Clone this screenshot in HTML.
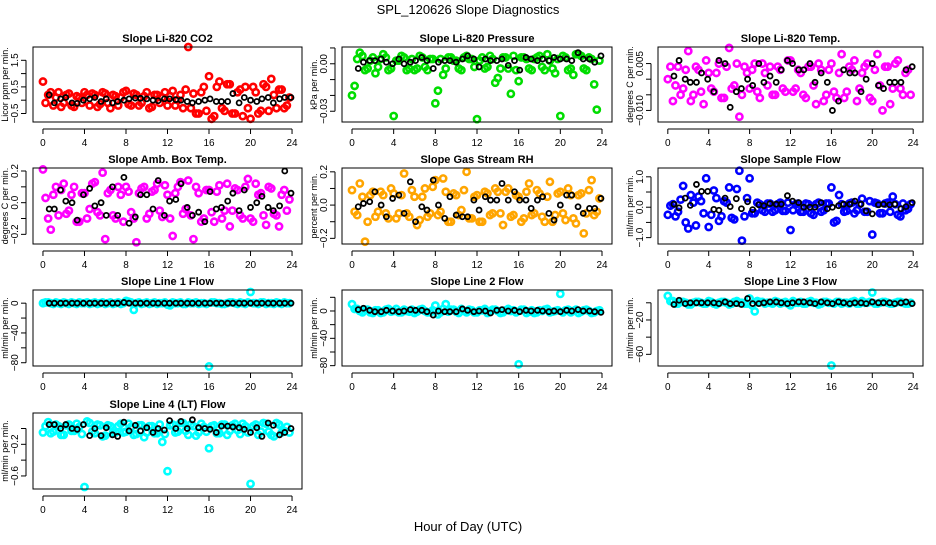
<!DOCTYPE html>
<html><head><meta charset="utf-8"><style>
body{margin:0;background:#fff;}
svg text{font-family:"Liberation Sans",sans-serif;fill:#000;}
</style></head><body>
<svg id="chart" width="936" height="540" viewBox="0 0 936 540">
<rect width="936" height="540" fill="#fff"/>
<text x="468" y="14" font-size="13" text-anchor="middle">SPL_120626  Slope Diagnostics</text>
<text x="468" y="531" font-size="13" text-anchor="middle">Hour of Day (UTC)</text>
</svg>
<script>
const xTicks=[0,4,8,12,16,20,24];
const blackHours=[0.6,1.1,1.7,2.2,2.8,3.3,3.9,4.5,5.0,5.6,6.1,6.7,7.2,7.8,8.3,8.9,9.4,10.0,10.6,11.1,11.7,12.2,12.8,13.3,13.9,14.4,15.0,15.6,16.1,16.7,17.2,17.8,18.3,18.9,19.4,20.0,20.6,21.1,21.7,22.2,22.8,23.3,23.9];
const co2A=[0.7,0.2,-0.2,0.3,-0.1,0.25,-0.25,0.1,0.3,-0.2,0.2,-0.15,0.25,-0.3,0.15,0.1,0.35,-0.2,0.2,-0.1,0.3,-0.25,0.2,0.1,-0.2,0.35,0.0,-0.3,2.0,0.25,-0.5,0.5,0.9,-0.6,0.7,-0.4,0.6,-0.5,0.4,0.5,-0.7,0.3,-0.4,0.5,0.8,-0.3,0.4,-0.2];
const co2B=[-0.1,0.3,0.1,-0.25,0.2,-0.2,0.15,-0.1,0.2,0.25,-0.25,0.3,-0.1,0.2,-0.2,0.3,-0.15,0.25,-0.2,0.15,-0.3,0.2,-0.1,0.3,0.15,-0.2,0.2,0.4,-0.3,-0.5,0.3,-0.4,-0.7,0.5,-0.3,0.6,-0.5,0.3,-0.6,-0.3,0.5,-0.5,0.6,-0.4,0.2,0.4,-0.3,0.1];
const co2K=[0.2,-0.1,0.05,0.1,-0.1,-0.12,0.0,0.05,0.1,-0.05,0.05,-0.1,-0.05,0.0,0.05,0.08,0.07,0.05,0.0,-0.02,0.05,0.05,0.02,0.0,-0.05,-0.1,-0.05,0.0,0.05,-0.05,-0.05,-0.05,0.25,-0.1,0.1,0.0,-0.05,0.05,0.1,-0.1,0.05,0.1,0.1];
const presA=[-0.02,0.003,0.005,-0.003,0.004,-0.002,0.006,-0.004,-0.033,0.002,0.004,-0.003,-0.004,0.005,-0.002,0.003,-0.025,0.003,-0.003,0.004,0.002,-0.004,0.005,0.003,-0.035,0.004,-0.002,0.003,-0.009,0.004,-0.003,0.005,-0.011,0.004,-0.003,0.003,0.005,-0.004,0.002,-0.006,-0.033,0.004,-0.003,0.006,0.005,-0.004,0.003,-0.029];
const presB=[-0.014,0.007,-0.004,0.002,-0.006,0.003,0.004,-0.003,0.002,0.005,-0.004,0.003,-0.003,0.004,-0.004,0.003,-0.017,-0.007,0.004,0.002,-0.003,0.004,0.003,-0.002,0.002,-0.003,0.005,-0.012,-0.003,0.004,-0.019,-0.004,0.004,0.003,-0.004,0.004,-0.002,0.006,-0.003,0.003,0.005,-0.004,-0.007,0.006,-0.003,0.004,-0.013,0.002];
const presK=[-0.003,0.001,0.002,0.002,0.003,0.001,0.0,0.003,0.0,0.001,0.002,0.004,0.002,-0.003,0.001,0.002,0.002,0.001,0.003,0.005,0.003,-0.002,0.003,0.002,0.002,0.003,-0.001,0.002,-0.004,0.004,0.003,0.002,0.003,0.002,0.004,0.003,0.003,0.002,0.007,0.003,0.003,0.001,0.005];
const tempA=[0.0,-0.007,0.004,-0.003,0.009,-0.005,0.003,-0.008,0.002,-0.004,0.005,-0.006,0.01,-0.002,-0.012,0.004,-0.003,0.005,-0.006,0.002,0.004,-0.005,0.003,-0.004,0.006,-0.003,0.002,-0.006,0.004,-0.008,0.003,-0.005,0.005,-0.006,0.008,-0.004,0.003,-0.007,0.002,0.005,-0.007,0.008,-0.01,0.004,-0.003,0.006,-0.005,0.003];
const tempB=[0.004,-0.002,-0.005,0.003,-0.007,0.004,-0.004,0.006,-0.003,0.002,-0.006,0.004,-0.003,0.005,-0.005,0.002,0.003,-0.004,0.005,-0.002,-0.005,0.004,-0.003,0.006,-0.004,0.003,-0.005,0.004,-0.002,0.005,-0.007,0.003,-0.004,0.002,-0.006,0.004,0.006,-0.003,0.004,-0.006,0.003,-0.002,0.004,-0.008,0.005,-0.003,0.002,-0.005];
const tempK=[0.001,0.006,0.0,-0.001,-0.001,0.002,0.0,-0.004,0.006,0.005,-0.009,-0.004,-0.003,0.0,-0.002,0.005,-0.001,0.001,-0.001,0.003,0.006,0.005,0.003,0.003,0.005,-0.001,0.002,-0.001,-0.01,-0.007,0.003,0.002,0.002,-0.004,0.0,0.005,-0.002,-0.003,-0.001,-0.001,-0.001,0.003,0.004];
const ambA=[0.21,-0.1,0.05,-0.08,0.12,-0.05,0.1,-0.12,0.06,-0.04,0.13,-0.08,-0.23,0.08,-0.1,0.05,0.1,-0.06,-0.25,0.09,-0.1,0.07,0.12,-0.09,0.05,-0.21,0.1,-0.07,0.14,-0.23,0.06,-0.1,0.08,-0.12,0.11,-0.05,-0.15,0.09,-0.08,0.1,-0.1,0.12,0.06,-0.14,0.09,-0.08,0.05,-0.05];
const ambB=[0.03,-0.17,0.1,0.08,-0.07,0.05,-0.12,0.06,-0.1,0.12,-0.06,0.19,0.06,-0.08,0.1,-0.12,0.07,-0.1,0.06,0.1,-0.07,0.08,-0.05,0.11,-0.1,0.06,0.13,-0.04,-0.08,0.1,-0.12,0.08,-0.06,0.07,-0.1,0.12,-0.05,0.08,-0.1,0.15,-0.12,0.05,-0.08,0.1,-0.07,-0.15,0.08,0.02];
const ambK=[-0.04,-0.04,0.08,0.01,0.0,-0.11,0.05,0.09,-0.02,0.0,-0.08,0.10,-0.08,0.16,-0.13,-0.09,0.05,0.05,-0.04,0.14,-0.08,0.01,0.02,0.12,-0.03,-0.08,-0.06,-0.12,0.07,-0.04,-0.03,0.01,0.06,-0.05,0.08,-0.03,0.0,0.04,-0.03,-0.05,-0.02,0.2,0.06];
const rhA=[0.09,-0.06,0.05,-0.1,0.08,-0.04,0.06,-0.08,0.07,-0.05,0.19,-0.07,0.05,-0.09,0.1,-0.05,0.15,-0.04,0.08,-0.1,0.06,-0.03,0.2,-0.08,0.06,-0.1,0.07,-0.05,0.08,-0.12,0.1,-0.06,0.05,-0.08,0.13,-0.05,0.07,-0.1,0.14,-0.06,0.08,-0.09,0.06,-0.11,0.07,-0.05,0.15,-0.04];
const rhB=[-0.04,0.13,-0.22,0.06,-0.07,0.08,-0.05,0.1,-0.08,0.06,-0.05,0.09,-0.12,0.05,-0.07,0.11,-0.06,0.16,-0.1,0.07,-0.06,0.09,-0.08,0.05,-0.1,0.08,-0.06,0.1,-0.05,0.08,-0.07,0.06,-0.1,0.08,-0.06,0.09,-0.07,0.05,-0.1,0.07,-0.05,0.1,-0.08,0.06,-0.17,0.09,-0.06,0.04];
const rhK=[-0.01,0.01,0.02,0.08,0.0,-0.07,0.04,0.06,-0.05,0.14,-0.1,-0.01,-0.03,0.15,0.0,-0.08,0.05,-0.06,-0.07,-0.07,0.03,-0.03,0.05,0.03,0.03,0.13,0.03,0.08,0.03,0.03,-0.02,0.03,0.05,-0.05,-0.09,0.0,0.06,0.06,-0.01,-0.05,-0.02,-0.02,0.04];
const sfA=[-0.25,0.1,-0.15,0.7,-0.7,0.15,0.35,-0.2,-0.65,0.55,-0.45,0.2,0.65,-0.4,1.2,-0.3,0.95,-0.2,0.1,-0.15,0.12,-0.1,0.15,-0.12,-0.75,0.1,-0.15,0.12,-0.2,0.1,-0.15,0.12,0.65,-0.45,0.1,-0.12,0.15,-0.1,0.28,-0.15,-0.9,0.12,-0.2,0.15,0.35,-0.25,0.12,-0.05];
const sfB=[0.05,-0.3,0.25,-0.5,0.4,-0.6,0.2,0.95,-0.25,0.3,-0.3,0.15,-0.35,0.6,-1.1,0.3,-0.2,0.15,-0.1,0.12,-0.15,0.1,-0.12,0.15,-0.1,0.12,-0.15,0.1,-0.25,0.15,-0.1,0.12,-0.5,0.4,-0.15,0.12,-0.2,0.1,-0.15,0.2,0.15,-0.2,0.12,-0.15,0.1,-0.3,-0.1,0.1];
const sfK=[0.1,-0.02,0.3,0.06,0.75,0.52,0.52,-0.07,-0.1,0.3,0.02,0.28,-0.05,0.18,-0.08,0.08,0.05,0.12,0.1,0.1,0.38,0.2,0.15,0.0,0.0,0.0,0.15,-0.05,0.0,0.05,0.1,0.1,0.2,0.1,-0.12,-0.22,0.08,0.1,0.08,0.1,-0.05,0.02,0.15];
const l1A=[0,1,-1,0,1,-1,0,1,0,-1,1,0,-1,1,0,-1,3,1,0,-1,1,0,-1,0,-2,1,0,-1,1,0,-1,0,-85,1,0,-1,1,0,1,-1,15,0,1,-1,0,1,-1,0];
const l1B=[1,0,1,-1,0,1,-1,0,1,0,-1,1,0,-1,1,0,2,-9,1,0,-1,1,0,1,-3,0,1,-1,0,1,0,-1,1,0,-1,0,1,-1,0,1,0,-1,1,0,-1,0,1,0];
const l1K=[0,0,0,0,0,0,0,0,0,0,0,0,0,1,0,0,0,0,0,0,0,0,0,0,0,0,0,0,0,0,0,0,0,0,0,0,0,0,0,0,0,0,0];
const l2A=[10,3,-2,2,-3,1,-2,3,0,-2,2,-1,-3,2,0,-2,8,-2,10,2,-1,3,-2,1,-2,1,-3,2,0,-2,3,1,-78,2,-1,-3,1,2,-2,0,25,1,-2,2,-1,2,-3,0];
const l2B=[3,0,2,-2,1,-3,2,-1,3,-2,0,2,-1,3,-2,1,-5,3,-1,2,-3,0,2,-2,1,3,-1,2,-3,1,0,-2,2,-3,1,-2,0,3,-1,1,-2,2,0,-3,1,0,-2,1];
const l2K=[2,4,1,-1,-1,1,0,-1,0,2,1,1,-1,-6,0,-1,-1,-1,3,1,-1,0,0,-3,1,2,0,1,-1,1,0,1,0,-1,0,-1,1,0,2,0,0,-1,-2];
const l3A=[8,2,-1,1,-2,0,1,-1,2,-1,0,1,-2,1,0,-1,5,-10,1,-1,0,2,-1,1,-3,0,1,-1,2,0,-1,1,-73,1,-1,0,1,-1,2,0,12,-1,1,0,-1,1,0,-1];
const l3B=[2,-1,1,0,-2,1,0,-1,1,-2,1,0,-1,2,0,-1,-3,2,1,0,-1,1,0,-1,2,0,-1,1,0,-2,1,0,-1,1,0,-1,2,-1,0,1,-1,0,1,-1,0,1,-1,0];
const l3K=[-2,3,-1,0,0,0,0,0,-1,1,-1,-1,-2,5,-1,-1,0,1,1,0,-1,0,1,1,0,-1,1,0,-1,1,0,-1,0,0,-1,1,0,0,0,-1,0,1,-1];
const l4A=[-0.05,0.08,-0.04,0.03,-0.08,0.05,-0.03,0.02,-0.74,0.07,-0.06,0.04,-0.09,0.03,-0.05,0.06,-0.04,0.02,-0.07,0.04,-0.05,0.03,-0.06,-0.17,-0.54,0.05,-0.04,0.07,-0.08,0.03,-0.05,0.02,-0.25,0.04,-0.06,0.05,-0.03,0.06,-0.07,0.03,-0.7,0.05,-0.04,0.06,-0.08,0.07,-0.05,0.02];
const l4B=[0.03,-0.06,0.05,-0.08,0.04,-0.03,0.06,-0.07,0.09,-0.04,0.05,-0.1,0.04,-0.06,0.03,-0.05,0.06,-0.08,0.04,-0.11,0.03,-0.06,0.05,-0.07,0.04,-0.05,0.07,-0.03,0.05,-0.09,0.06,-0.04,0.03,-0.06,0.05,-0.08,0.04,-0.02,0.06,-0.05,0.03,-0.08,0.07,-0.04,-0.1,0.05,-0.03,-0.05];
const l4K=[0.05,0.05,0.0,0.05,0.0,-0.01,0.05,-0.09,0.0,-0.09,0.01,-0.08,-0.1,0.08,-0.03,0.04,-0.03,0.01,-0.05,0.0,-0.02,0.1,0.0,0.09,0.0,0.11,0.01,0.0,-0.01,-0.05,0.03,0.03,0.02,0.01,-0.01,-0.05,0.01,-0.1,0.07,0.04,-0.08,-0.05,0.0];

const colBox=[[33,302],[342,612],[658,923]];
const rowBox=[[47,122],[168,244],[290,366],[413,489]];
const panels=[
 {id:'co2',title:'Slope Li-820 CO2',ylab:'Licor ppm per min.',c:0,r:0,ymin:-0.82,ymax:2.0,ticks:[-0.5,0,0.5,1,1.5],labels:['-0.5','','0.5','','1.5'],color:'#ff0000',a:co2A,b:co2B,k:co2K},
 {id:'pressure',title:'Slope Li-820 Pressure',ylab:'kPa per min.',c:1,r:0,ymin:-0.0368,ymax:0.0106,ticks:[-0.03,-0.02,-0.01,0,0.01],labels:['-0.03','','','0.00',''],color:'#00dd00',a:presA,b:presB,k:presK},
 {id:'li820-temp',title:'Slope Li-820 Temp.',ylab:'degrees C per min.',c:2,r:0,ymin:-0.0137,ymax:0.0103,ticks:[-0.01,-0.005,0,0.005],labels:['-0.010','','','0.005'],color:'#ff00ff',a:tempA,b:tempB,k:tempK},
 {id:'amb-box-temp',title:'Slope Amb. Box Temp.',ylab:'degrees C per min.',c:0,r:1,ymin:-0.261,ymax:0.219,ticks:[-0.2,-0.1,0,0.1,0.2],labels:['-0.2','','0.0','','0.2'],color:'#ff00ff',a:ambA,b:ambB,k:ambK},
 {id:'gas-stream-rh',title:'Slope Gas Stream RH',ylab:'percent per min.',c:1,r:1,ymin:-0.234,ymax:0.223,ticks:[-0.2,-0.1,0,0.1,0.2],labels:['-0.2','','0.0','','0.2'],color:'#ffa500',a:rhA,b:rhB,k:rhK},
 {id:'sample-flow',title:'Slope Sample Flow',ylab:'ml/min per min.',c:2,r:1,ymin:-1.21,ymax:1.29,ticks:[-1,-0.5,0,0.5,1],labels:['-1.0','','0.0','','1.0'],color:'#0000ff',a:sfA,b:sfB,k:sfK},
 {id:'line1-flow',title:'Slope Line 1 Flow',ylab:'ml/min per min.',c:0,r:2,ymin:-84.4,ymax:17.7,ticks:[-80,-60,-40,-20,0],labels:['-80','','-40','','0'],color:'#00ffff',a:l1A,b:l1B,k:l1K},
 {id:'line2-flow',title:'Slope Line 2 Flow',ylab:'ml/min per min.',c:1,r:2,ymin:-80.5,ymax:30.7,ticks:[-80,-60,-40,-20,0,20],labels:['-80','','-40','','0',''],color:'#00ffff',a:l2A,b:l2B,k:l2K},
 {id:'line3-flow',title:'Slope Line 3 Flow',ylab:'ml/min per min.',c:2,r:2,ymin:-73.6,ymax:14.9,ticks:[-60,-40,-20,0],labels:['-60','','-20',''],color:'#00ffff',a:l3A,b:l3B,k:l3K},
 {id:'line4-flow',title:'Slope Line 4 (LT) Flow',ylab:'ml/min per min.',c:0,r:3,ymin:-0.765,ymax:0.196,ticks:[-0.6,-0.4,-0.2,0],labels:['-0.6','','-0.2',''],color:'#00ffff',a:l4A,b:l4B,k:l4K}
];
const NS='http://www.w3.org/2000/svg';
const svg=document.getElementById('chart');
function mk(tag,attrs,parent){const e=document.createElementNS(NS,tag);for(const k in attrs)e.setAttribute(k,attrs[k]);parent.appendChild(e);return e;}
panels.forEach(p=>{
 const [L,R]=colBox[p.c],[T,B]=rowBox[p.r];
 const xs=h=>L+(h+0.96)/25.92*(R-L);
 const ys=v=>B-(v-p.ymin)/(p.ymax-p.ymin)*(B-T);
 const g=mk('g',{},svg);
 
 
 const t=mk('text',{x:(L+R)/2,y:T-5,'font-size':11,'font-weight':'bold','text-anchor':'middle'},g);t.textContent=p.title;
 
 
 const pts=mk('g',{fill:'none'},g);
 
 
 p.a.forEach((v,i)=>{const c=mk('circle',{cx:xs(i*0.5),cy:ys(v),r:3.1,stroke:p.color,'stroke-width':2.6},pts);
  
  });
 p.b.forEach((v,i)=>{const c=mk('circle',{cx:xs(i*0.5+0.25),cy:ys(v),r:3.1,stroke:p.color,'stroke-width':2.6},pts);
  
  });
 p.k.forEach((v,i)=>{const c=mk('circle',{cx:xs(blackHours[i]),cy:ys(v),r:2.5,stroke:'#000','stroke-width':1.8},pts);
  
  });
 const box=mk('rect',{x:L,y:T,width:R-L,height:B-T,fill:'none',stroke:'#000','stroke-width':1},g);
 
 
 const xa=mk('g',{stroke:'#000'},g);
 
 
 mk('line',{x1:xs(0),x2:xs(24),y1:B+7,y2:B+7},xa);
 xTicks.forEach(h=>{mk('line',{x1:xs(h),x2:xs(h),y1:B+7,y2:B+12},xa);
  const tl=mk('text',{x:xs(h),y:B+24,'font-size':10,'text-anchor':'middle',stroke:'none'},xa);tl.textContent=h;});
 const ya=mk('g',{stroke:'#000'},g);
 
 
 const t0=p.ticks[0],t1=p.ticks[p.ticks.length-1];
 mk('line',{x1:L-7,x2:L-7,y1:ys(t0),y2:ys(t1)},ya);
 p.ticks.forEach((v,i)=>{mk('line',{x1:L-12,x2:L-7,y1:ys(v),y2:ys(v)},ya);
  if(p.labels[i]){const tl=mk('text',{x:0,y:0,'font-size':10,'text-anchor':'middle',stroke:'none',transform:`translate(${L-15},${ys(v)}) rotate(-90)`},ya);tl.textContent=p.labels[i].replace('-','\u2212');}});
 const yl=mk('text',{'font-size':9,'text-anchor':'middle',transform:`translate(${L-25},${(T+B)/2}) rotate(-90)`},g);yl.textContent=p.ylab;
 
 
});
</script>
</body></html>
